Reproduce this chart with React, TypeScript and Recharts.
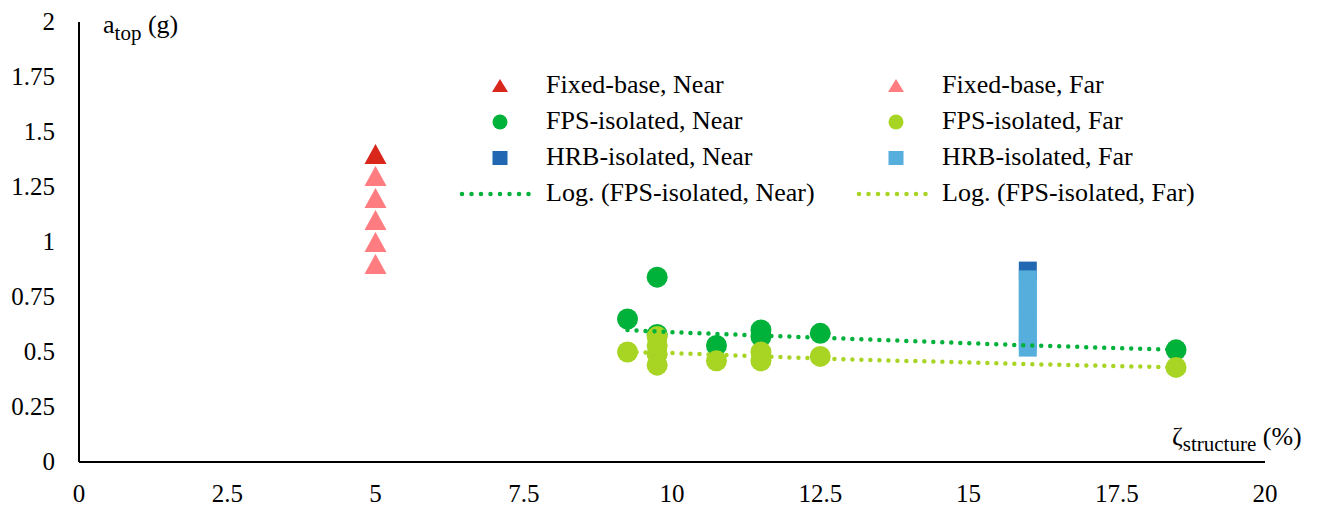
import React from 'react'
import { ScatterChart, Scatter, XAxis, YAxis } from 'recharts'

// x = damping ratio of the structure (%), y = top acceleration (g)
const fixedNearX = [5]
const fixedNearY = [1.4]
const fixedFarX = [5, 5, 5, 5, 5]
const fixedFarY = [1.3, 1.2, 1.1, 1.0, 0.9]

const fpsNearX = [9.25, 9.75, 9.75, 10.75, 11.5, 11.5, 12.5, 18.5]
const fpsNearY = [0.65, 0.84, 0.58, 0.53, 0.6, 0.57, 0.585, 0.51]
const fpsFarX = [9.25, 9.75, 9.75, 9.75, 9.75, 10.75, 11.5, 11.5, 12.5, 18.5]
const fpsFarY = [0.5, 0.57, 0.53, 0.49, 0.44, 0.46, 0.5, 0.46, 0.48, 0.43]

const hrbNearX = [16]
const hrbNearY = [0.87]
const hrbFarX = [16, 16, 16, 16, 16, 16, 16, 16, 16]
const hrbFarY = [0.83, 0.79, 0.75, 0.71, 0.67, 0.63, 0.59, 0.55, 0.52]

// logarithmic trend lines
const trendX = [9.25, 10, 11.5, 12.5, 16, 18.5]
const nearTrendY = [0.6, 0.59, 0.575, 0.565, 0.53, 0.51]
const farTrendY = [0.5, 0.495, 0.48, 0.47, 0.445, 0.43]

const xTicks = [0, 2.5, 5, 7.5, 10, 12.5, 15, 17.5, 20]
const yTicks = [0, 0.25, 0.5, 0.75, 1, 1.25, 1.5, 1.75, 2]

const RED = '#D9271C'
const PINK = '#FF7C80'
const GREEN = '#00B13A'
const LIME = '#A8D424'
const BLUE = '#2167B1'
const SKY = '#55AEDB'

const serif = { fontFamily: 'Liberation Serif' }

const pts = (xs: number[], ys: number[]) => xs.map((x, i) => ({ x, y: ys[i] }))

const triangle = (color: string, w = 22, h = 20) => (p: any) => (
  <polygon
    points={`${p.cx},${p.cy - h / 2} ${p.cx - w / 2},${p.cy + h / 2} ${p.cx + w / 2},${p.cy + h / 2}`}
    fill={color}
  />
)
const circle = (color: string, r = 10.5) => (p: any) => <circle cx={p.cx} cy={p.cy} r={r} fill={color} />
const square = (color: string, s = 18) => (p: any) => (
  <rect x={p.cx - s / 2} y={p.cy - s / 2} width={s} height={s} fill={color} />
)
const none = () => <g />

const XTick = ({ x, y, payload }: any) => (
  <text x={x} y={y + 40} textAnchor="middle" style={serif} fontSize={25} fill="#000">
    {payload.value}
  </text>
)
const YTick = ({ x, y, payload }: any) => (
  <text x={x - 24} y={y + 8} textAnchor="end" style={serif} fontSize={25} fill="#000">
    {payload.value}
  </text>
)

const legendLeft = [
  { label: 'Fixed-base, Near', kind: 'tri', color: RED },
  { label: 'FPS-isolated, Near', kind: 'dot', color: GREEN },
  { label: 'HRB-isolated, Near', kind: 'sq', color: BLUE },
  { label: 'Log. (FPS-isolated, Near)', kind: 'line', color: GREEN },
]
const legendRight = [
  { label: 'Fixed-base, Far', kind: 'tri', color: PINK },
  { label: 'FPS-isolated, Far', kind: 'dot', color: LIME },
  { label: 'HRB-isolated, Far', kind: 'sq', color: SKY },
  { label: 'Log. (FPS-isolated, Far)', kind: 'line', color: LIME },
]

function LegendColumn({ items, mx, tx, lx1, lx2 }: any) {
  return (
    <g>
      {items.map((it: any, i: number) => {
        const base = 93 + i * 36
        const cy = base - 7
        let mark
        if (it.kind === 'tri')
          mark = <polygon points={`${mx},${cy - 7} ${mx - 8},${cy + 6} ${mx + 8},${cy + 6}`} fill={it.color} />
        else if (it.kind === 'dot') mark = <circle cx={mx} cy={cy} r={7.5} fill={it.color} />
        else if (it.kind === 'sq') mark = <rect x={mx - 7.5} y={cy - 7} width={15} height={14} fill={it.color} />
        else
          mark = (
            <line x1={lx1} x2={lx2} y1={cy} y2={cy} stroke={it.color} strokeWidth={4.5}
              strokeDasharray="0 9.5" strokeLinecap="round" />
          )
        return (
          <g key={i}>
            {mark}
            <text x={tx} y={base} style={serif} fontSize={26} fill="#000">{it.label}</text>
          </g>
        )
      })}
    </g>
  )
}

export default function App() {
  const lineStyle = (color: string) => ({
    stroke: color,
    strokeWidth: 4.5,
    strokeDasharray: '0 9',
    strokeLinecap: 'round' as const,
  })
  return (
    <div style={{ position: 'absolute', left: 0, top: 0, width: 1319, height: 507, background: '#fff' }}>
      <ScatterChart width={1319} height={507} margin={{ top: 22, right: 54, bottom: 15, left: 19 }}>
        <XAxis
          type="number"
          dataKey="x"
          domain={[0, 20]}
          ticks={xTicks}
          tickLine={false}
          tickSize={0}
          tickMargin={0}
          height={30}
          axisLine={{ stroke: '#000', strokeWidth: 2 }}
          tick={<XTick />}
          interval={0}
          allowDataOverflow
        />
        <YAxis
          type="number"
          dataKey="y"
          domain={[0, 2]}
          ticks={yTicks}
          tickLine={false}
          tickSize={0}
          tickMargin={0}
          width={60}
          axisLine={{ stroke: '#000', strokeWidth: 2 }}
          tick={<YTick />}
          interval={0}
          allowDataOverflow
        />
        <Scatter data={pts(fixedNearX, fixedNearY)} shape={triangle(RED)} isAnimationActive={false} />
        <Scatter data={pts(fpsNearX, fpsNearY)} shape={circle(GREEN)} isAnimationActive={false} />
        <Scatter data={pts(hrbNearX, hrbNearY)} shape={square(BLUE)} isAnimationActive={false} />
        <Scatter data={pts(fixedFarX, fixedFarY)} shape={triangle(PINK)} isAnimationActive={false} />
        <Scatter data={pts(fpsFarX, fpsFarY)} shape={circle(LIME)} isAnimationActive={false} />
        <Scatter data={pts(hrbFarX, hrbFarY)} shape={square(SKY)} isAnimationActive={false} />
        <Scatter
          data={pts(trendX, nearTrendY)}
          line={lineStyle(GREEN)}
          lineType="joint"
          shape={none}
          isAnimationActive={false}
        />
        <Scatter
          data={pts(trendX, farTrendY)}
          line={lineStyle(LIME)}
          lineType="joint"
          shape={none}
          isAnimationActive={false}
        />
      </ScatterChart>
      <svg width={1319} height={507} style={{ position: 'absolute', left: 0, top: 0, pointerEvents: 'none' }}>
        <text x={103} y={33} style={serif} fontSize={26} fill="#000">
          a<tspan fontSize={21} dy={7}>top</tspan>
          <tspan dy={-7}> (g)</tspan>
        </text>
        <text x={1172} y={445} style={serif} fontSize={26} fill="#000">
          ζ<tspan fontSize={21} dy={6}>structure</tspan>
          <tspan dy={-6}> (%)</tspan>
        </text>
        <LegendColumn items={legendLeft} mx={500} tx={546} lx1={462} lx2={537} />
        <LegendColumn items={legendRight} mx={896} tx={942} lx1={859} lx2={932} />
      </svg>
    </div>
  )
}
